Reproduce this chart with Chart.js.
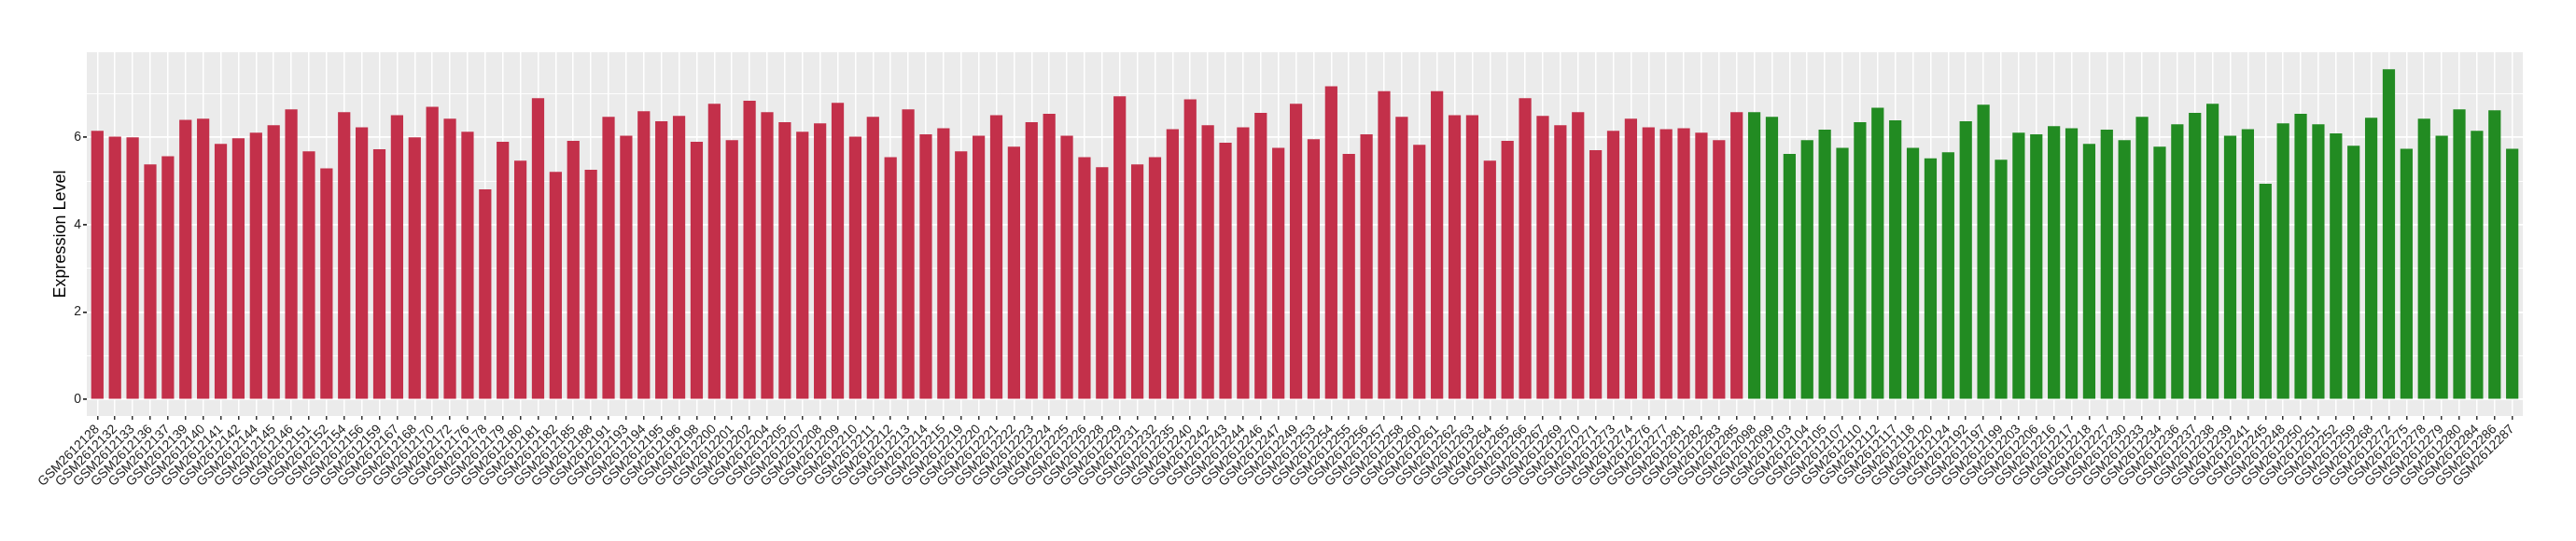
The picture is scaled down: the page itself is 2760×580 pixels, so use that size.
<!DOCTYPE html>
<html>
<head>
<meta charset="utf-8">
<script src="https://cdn.jsdelivr.net/npm/chart.js@4/dist/chart.umd.min.js"></script>
<style>
  html, body { margin: 0; padding: 0; background: #ffffff; }
  canvas { display: block; }
</style>
</head>
<body>
<canvas id="myBarChart" width="2760" height="580"></canvas>
<script>
// samples of the first group (red)
const redSamples = [
  'GSM2612128','GSM2612132','GSM2612133','GSM2612136','GSM2612137','GSM2612139','GSM2612140','GSM2612141',
  'GSM2612142','GSM2612144','GSM2612145','GSM2612146','GSM2612151','GSM2612152','GSM2612154','GSM2612156',
  'GSM2612159','GSM2612167','GSM2612168','GSM2612170','GSM2612172','GSM2612176','GSM2612178','GSM2612179',
  'GSM2612180','GSM2612181','GSM2612182','GSM2612185','GSM2612188','GSM2612191','GSM2612193','GSM2612194',
  'GSM2612195','GSM2612196','GSM2612198','GSM2612200','GSM2612201','GSM2612202','GSM2612204','GSM2612205',
  'GSM2612207','GSM2612208','GSM2612209','GSM2612210','GSM2612211','GSM2612212','GSM2612213','GSM2612214',
  'GSM2612215','GSM2612219','GSM2612220','GSM2612221','GSM2612222','GSM2612223','GSM2612224','GSM2612225',
  'GSM2612226','GSM2612228','GSM2612229','GSM2612231','GSM2612232','GSM2612235','GSM2612240','GSM2612242',
  'GSM2612243','GSM2612244','GSM2612246','GSM2612247','GSM2612249','GSM2612253','GSM2612254','GSM2612255',
  'GSM2612256','GSM2612257','GSM2612258','GSM2612260','GSM2612261','GSM2612262','GSM2612263','GSM2612264',
  'GSM2612265','GSM2612266','GSM2612267','GSM2612269','GSM2612270','GSM2612271','GSM2612273','GSM2612274',
  'GSM2612276','GSM2612277','GSM2612281','GSM2612282','GSM2612283','GSM2612285'
];
const redValues = [
  6.15, 6.02, 6.00, 5.38, 5.57, 6.40, 6.43, 5.85,
  5.98, 6.11, 6.28, 6.64, 5.68, 5.29, 6.58, 6.23,
  5.73, 6.51, 6.00, 6.70, 6.43, 6.13, 4.81, 5.90,
  5.47, 6.90, 5.21, 5.92, 5.26, 6.47, 6.04, 6.60,
  6.37, 6.49, 5.90, 6.77, 5.94, 6.84, 6.58, 6.35,
  6.13, 6.32, 6.79, 6.02, 6.47, 5.55, 6.64, 6.07,
  6.21, 5.68, 6.04, 6.51, 5.79, 6.35, 6.54, 6.04,
  5.55, 5.32, 6.94, 5.38, 5.55, 6.19, 6.87, 6.28,
  5.88, 6.23, 6.56, 5.76, 6.77, 5.96, 7.17, 5.62,
  6.07, 7.06, 6.47, 5.83, 7.06, 6.51, 6.51, 5.47,
  5.92, 6.90, 6.49, 6.28, 6.58, 5.71, 6.15, 6.43,
  6.23, 6.19, 6.21, 6.11, 5.94, 6.58
];

// samples of the second group (green)
const greenSamples = [
  'GSM2612098','GSM2612099','GSM2612103','GSM2612104','GSM2612105','GSM2612107','GSM2612110','GSM2612112',
  'GSM2612117','GSM2612118','GSM2612120','GSM2612124','GSM2612192','GSM2612197','GSM2612199','GSM2612203',
  'GSM2612206','GSM2612216','GSM2612217','GSM2612218','GSM2612227','GSM2612230','GSM2612233','GSM2612234',
  'GSM2612236','GSM2612237','GSM2612238','GSM2612239','GSM2612241','GSM2612245','GSM2612248','GSM2612250',
  'GSM2612251','GSM2612252','GSM2612259','GSM2612268','GSM2612272','GSM2612275','GSM2612278','GSM2612279',
  'GSM2612280','GSM2612284','GSM2612286','GSM2612287'
];
const greenValues = [
  6.58, 6.47, 5.62, 5.94, 6.18, 5.76, 6.35, 6.68,
  6.39, 5.76, 5.52, 5.66, 6.37, 6.75, 5.49, 6.11,
  6.07, 6.26, 6.21, 5.85, 6.18, 5.94, 6.47, 5.79,
  6.30, 6.56, 6.77, 6.04, 6.19, 4.94, 6.32, 6.54,
  6.30, 6.09, 5.81, 6.45, 7.56, 5.74, 6.43, 6.04,
  6.64, 6.15, 6.62, 5.74
];

// major ticks at even values, minor gridlines at odd
const yTicks = [0, 1, 2, 3, 4, 5, 6, 7];

const RED = '#C3304A';
const GREEN = '#228B22';
const FONT = '"Liberation Sans", Arial, sans-serif';

const samples = redSamples.concat(greenSamples);
const values = redValues.concat(greenValues);
const colors = redSamples.map(() => RED).concat(greenSamples.map(() => GREEN));

// grey ggplot-like panel behind the bars
const panelBg = {
    id: 'panelBg',
    beforeDraw(chart) {
        const {ctx, chartArea: a} = chart;
        ctx.save();
        ctx.fillStyle = '#EBEBEB';
        ctx.fillRect(a.left, a.top, a.right - a.left, a.bottom - a.top);
        ctx.restore();
    }
};

const config = {
    type: 'bar',
    data: {
        datasets: [{
            label: 'Expression Level',
            data: values.map((v, i) => ({x: i, y: v})),
            backgroundColor: colors,
            borderWidth: 0,
            barPercentage: 0.7,
            categoryPercentage: 1.0
        }]
    },
    options: {
        responsive: false,
        animation: false,
        layout: { padding: { top: 56, right: 57, left: 0, bottom: 0 } },
        plugins: {
            legend: { display: false },
            tooltip: { enabled: false }
        },
        scales: {
            x: {
                type: 'linear',
                min: -0.6,
                max: samples.length - 1 + 0.6,
                offset: false,
                border: { display: false },
                grid: {
                    offset: false,
                    color: '#FFFFFF',
                    lineWidth: 1.5,
                    tickColor: '#333333',
                    tickLength: 4
                },
                afterBuildTicks(scale) {
                    scale.ticks = samples.map((_, i) => ({value: i}));
                },
                afterFit(scale) {
                    scale.height = 134;
                    scale.paddingLeft = 0;
                    scale.paddingRight = 0;
                },
                ticks: {
                    autoSkip: false,
                    minRotation: 45,
                    maxRotation: 45,
                    padding: 2,
                    color: '#222222',
                    font: { family: FONT, size: 14 },
                    callback: (v) => samples[v]
                }
            },
            y: {
                min: -0.378,
                max: 7.95,
                border: { display: false },
                grid: {
                    color: '#FFFFFF',
                    lineWidth: (c) => (c.tick && c.tick.value % 2 === 0) ? 1.8 : 0.9,
                    tickColor: (c) => (c.tick && c.tick.value % 2 === 0) ? '#333333' : 'rgba(0,0,0,0)',
                    tickLength: 4
                },
                afterBuildTicks(scale) {
                    scale.ticks = yTicks.map(v => ({value: v}));
                },
                afterFit(scale) {
                    scale.width = 93;
                    scale.paddingTop = 0;
                    scale.paddingBottom = 0;
                },
                ticks: {
                    padding: 2,
                    color: '#222222',
                    font: { family: FONT, size: 14 },
                    callback: (v) => (v % 2 === 0 ? String(v) : '')
                },
                title: {
                    display: true,
                    text: 'Expression Level',
                    color: '#000000',
                    padding: { top: 54, bottom: 0 },
                    font: { family: FONT, size: 18, weight: 'normal' }
                }
            }
        }
    },
    plugins: [panelBg]
};

new Chart(document.querySelector('#myBarChart'), config);
</script>
</body>
</html>
